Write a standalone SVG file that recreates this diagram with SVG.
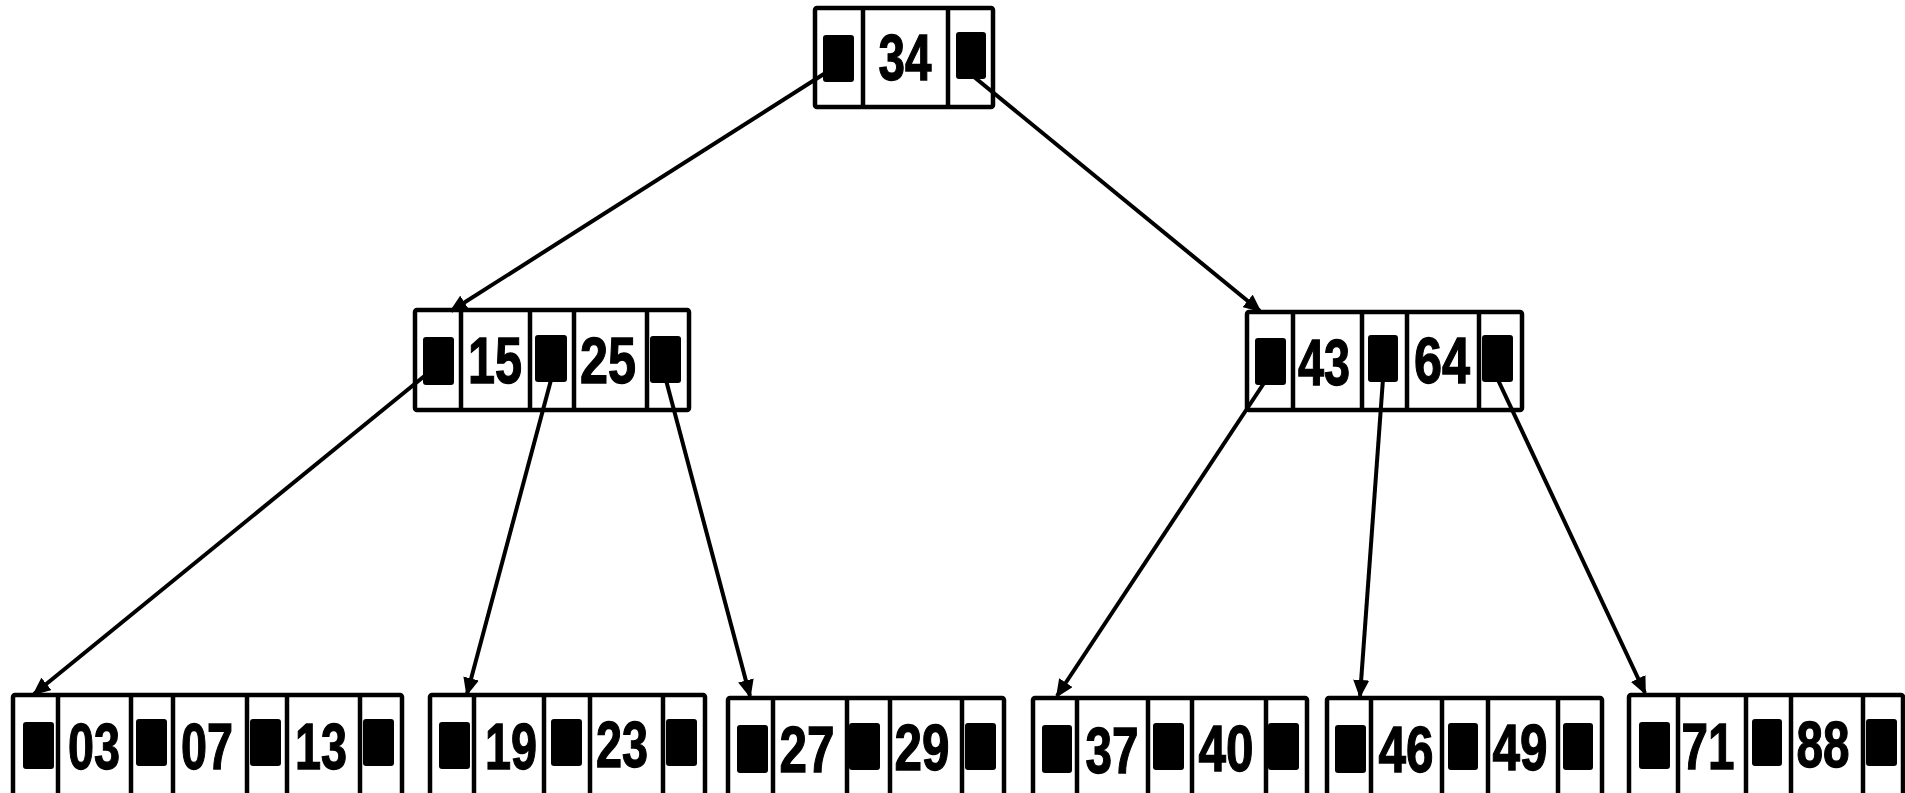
<svg xmlns="http://www.w3.org/2000/svg" width="1905" height="793" viewBox="0 0 1905 793">
<style>
.box{fill:#fff;stroke:#000;stroke-width:4.5;stroke-linejoin:round}
.div{stroke:#000;stroke-width:4.5}
.ptr{fill:#000}
.key{font-family:"Liberation Sans",Arial,sans-serif;font-weight:bold;font-size:64px;fill:#000;stroke:#000;stroke-width:1.3;text-anchor:middle}
.edge{stroke:#000;stroke-width:4;fill:none;marker-end:url(#arr)}
</style>
<defs>
<marker id="arr" markerUnits="userSpaceOnUse" markerWidth="20" markerHeight="16" refX="16" refY="8" orient="auto">
<path d="M0,0 L18,8 L0,16 z" fill="#000"/>
</marker>
</defs>
<rect width="1905" height="793" fill="#fff"/>

<g id="n34">
<rect class="box" x="815" y="8" width="178" height="99" rx="2"/>
<line class="div" x1="863" y1="8" x2="863" y2="107"/>
<line class="div" x1="948" y1="8" x2="948" y2="107"/>
<rect class="ptr" x="823" y="35" width="31" height="47" rx="3"/>
<rect class="ptr" x="956" y="32" width="30" height="47" rx="3"/>
<text class="key" x="905" y="80" textLength="53" lengthAdjust="spacingAndGlyphs">34</text>
</g>

<g id="n15_25">
<rect class="box" x="415" y="310" width="274" height="100" rx="2"/>
<line class="div" x1="461" y1="310" x2="461" y2="410"/>
<line class="div" x1="530" y1="310" x2="530" y2="410"/>
<line class="div" x1="574" y1="310" x2="574" y2="410"/>
<line class="div" x1="647" y1="310" x2="647" y2="410"/>
<rect class="ptr" x="423" y="337" width="31" height="48" rx="3"/>
<rect class="ptr" x="535" y="335" width="32" height="47" rx="3"/>
<rect class="ptr" x="650" y="336" width="31" height="47" rx="3"/>
<text class="key" x="495" y="383" textLength="54" lengthAdjust="spacingAndGlyphs">15</text>
<text class="key" x="608" y="383" textLength="56" lengthAdjust="spacingAndGlyphs">25</text>
</g>

<g id="n43_64">
<rect class="box" x="1247" y="312" width="275" height="98" rx="2"/>
<line class="div" x1="1293" y1="312" x2="1293" y2="410"/>
<line class="div" x1="1362" y1="312" x2="1362" y2="410"/>
<line class="div" x1="1407" y1="312" x2="1407" y2="410"/>
<line class="div" x1="1479" y1="312" x2="1479" y2="410"/>
<rect class="ptr" x="1255" y="338" width="31" height="47" rx="3"/>
<rect class="ptr" x="1368" y="335" width="30" height="47" rx="3"/>
<rect class="ptr" x="1482" y="335" width="31" height="47" rx="3"/>
<text class="key" x="1324" y="385" textLength="52" lengthAdjust="spacingAndGlyphs">43</text>
<text class="key" x="1442" y="383" textLength="56" lengthAdjust="spacingAndGlyphs">64</text>
</g>

<g id="n03_07_13">
<rect class="box" x="13" y="695" width="389" height="130" rx="2"/>
<line class="div" x1="58" y1="695" x2="58" y2="800"/>
<line class="div" x1="131" y1="695" x2="131" y2="800"/>
<line class="div" x1="173" y1="695" x2="173" y2="800"/>
<line class="div" x1="247" y1="695" x2="247" y2="800"/>
<line class="div" x1="287" y1="695" x2="287" y2="800"/>
<line class="div" x1="360" y1="695" x2="360" y2="800"/>
<rect class="ptr" x="23" y="722" width="31" height="47" rx="3"/>
<rect class="ptr" x="136" y="719" width="31" height="47" rx="3"/>
<rect class="ptr" x="250" y="719" width="31" height="47" rx="3"/>
<rect class="ptr" x="363" y="719" width="31" height="47" rx="3"/>
<text class="key" x="94" y="769" textLength="52" lengthAdjust="spacingAndGlyphs">03</text>
<text class="key" x="207" y="769" textLength="52" lengthAdjust="spacingAndGlyphs">07</text>
<text class="key" x="321" y="769" textLength="52" lengthAdjust="spacingAndGlyphs">13</text>
</g>

<g id="n19_23">
<rect class="box" x="430" y="695" width="275" height="130" rx="2"/>
<line class="div" x1="474" y1="695" x2="474" y2="800"/>
<line class="div" x1="544" y1="695" x2="544" y2="800"/>
<line class="div" x1="590" y1="695" x2="590" y2="800"/>
<line class="div" x1="663" y1="695" x2="663" y2="800"/>
<rect class="ptr" x="439" y="722" width="31" height="47" rx="3"/>
<rect class="ptr" x="551" y="719" width="31" height="47" rx="3"/>
<rect class="ptr" x="666" y="719" width="31" height="47" rx="3"/>
<text class="key" x="511" y="769" textLength="52" lengthAdjust="spacingAndGlyphs">19</text>
<text class="key" x="622" y="767" textLength="52" lengthAdjust="spacingAndGlyphs">23</text>
</g>

<g id="n27_29">
<rect class="box" x="728" y="698" width="276" height="130" rx="2"/>
<line class="div" x1="773" y1="698" x2="773" y2="800"/>
<line class="div" x1="847" y1="698" x2="847" y2="800"/>
<line class="div" x1="890" y1="698" x2="890" y2="800"/>
<line class="div" x1="962" y1="698" x2="962" y2="800"/>
<rect class="ptr" x="737" y="725" width="31" height="48" rx="3"/>
<rect class="ptr" x="849" y="723" width="31" height="47" rx="3"/>
<rect class="ptr" x="965" y="723" width="31" height="47" rx="3"/>
<text class="key" x="807" y="772" textLength="55" lengthAdjust="spacingAndGlyphs">27</text>
<text class="key" x="922" y="770" textLength="55" lengthAdjust="spacingAndGlyphs">29</text>
</g>

<g id="n37_40">
<rect class="box" x="1033" y="698" width="274" height="130" rx="2"/>
<line class="div" x1="1077" y1="698" x2="1077" y2="800"/>
<line class="div" x1="1148" y1="698" x2="1148" y2="800"/>
<line class="div" x1="1192" y1="698" x2="1192" y2="800"/>
<line class="div" x1="1266" y1="698" x2="1266" y2="800"/>
<rect class="ptr" x="1042" y="725" width="30" height="48" rx="3"/>
<rect class="ptr" x="1153" y="723" width="31" height="47" rx="3"/>
<rect class="ptr" x="1268" y="723" width="31" height="47" rx="3"/>
<text class="key" x="1112" y="773" textLength="53" lengthAdjust="spacingAndGlyphs">37</text>
<text class="key" x="1226" y="771" textLength="55" lengthAdjust="spacingAndGlyphs">40</text>
</g>

<g id="n46_49">
<rect class="box" x="1327" y="698" width="275" height="130" rx="2"/>
<line class="div" x1="1371" y1="698" x2="1371" y2="800"/>
<line class="div" x1="1442" y1="698" x2="1442" y2="800"/>
<line class="div" x1="1488" y1="698" x2="1488" y2="800"/>
<line class="div" x1="1558" y1="698" x2="1558" y2="800"/>
<rect class="ptr" x="1335" y="725" width="31" height="48" rx="3"/>
<rect class="ptr" x="1448" y="723" width="30" height="47" rx="3"/>
<rect class="ptr" x="1563" y="723" width="30" height="47" rx="3"/>
<text class="key" x="1406" y="772" textLength="55" lengthAdjust="spacingAndGlyphs">46</text>
<text class="key" x="1520" y="770" textLength="55" lengthAdjust="spacingAndGlyphs">49</text>
</g>

<g id="n71_88">
<rect class="box" x="1629" y="695" width="274" height="130" rx="2"/>
<line class="div" x1="1678" y1="695" x2="1678" y2="800"/>
<line class="div" x1="1746" y1="695" x2="1746" y2="800"/>
<line class="div" x1="1791" y1="695" x2="1791" y2="800"/>
<line class="div" x1="1863" y1="695" x2="1863" y2="800"/>
<rect class="ptr" x="1639" y="722" width="31" height="47" rx="3"/>
<rect class="ptr" x="1752" y="719" width="30" height="47" rx="3"/>
<rect class="ptr" x="1866" y="719" width="31" height="47" rx="3"/>
<text class="key" x="1708" y="769" textLength="53" lengthAdjust="spacingAndGlyphs">71</text>
<text class="key" x="1823" y="767" textLength="53" lengthAdjust="spacingAndGlyphs">88</text>
</g>

<g id="connectors">
<line class="edge" x1="838" y1="65" x2="451" y2="311"/>
<line class="edge" x1="968" y1="72" x2="1260" y2="311"/>
<line class="edge" x1="438" y1="365" x2="34" y2="694"/>
<line class="edge" x1="555" y1="365" x2="467" y2="694"/>
<line class="edge" x1="662" y1="365" x2="750" y2="696"/>
<line class="edge" x1="1270" y1="374" x2="1057" y2="696"/>
<line class="edge" x1="1384" y1="365" x2="1360" y2="696"/>
<line class="edge" x1="1491" y1="365" x2="1645" y2="693"/>
</g>
</svg>
